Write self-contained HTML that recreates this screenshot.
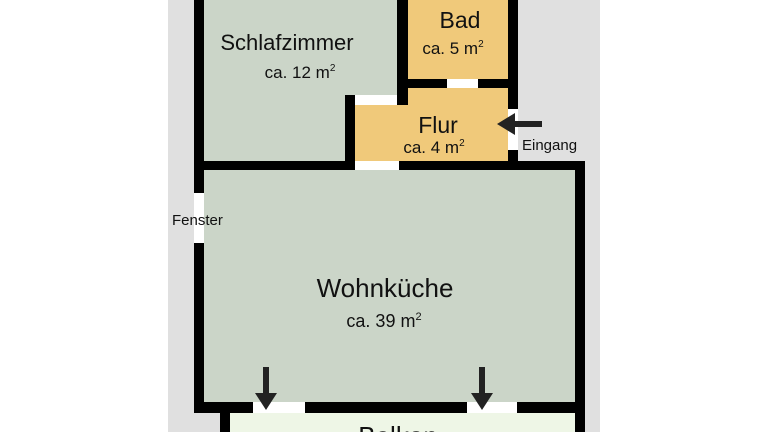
<!DOCTYPE html>
<html><head><style>
body{margin:0;width:768px;height:432px;overflow:hidden;background:#fff;}
svg text{font-family:"Liberation Sans",sans-serif;fill:#111;}
</style></head><body>
<svg width="768" height="432" viewBox="0 0 768 432">
<rect x="168" y="0" width="432" height="432" fill="#e0e0e0"/>
<rect x="204" y="0" width="193" height="161" fill="#cbd5c8"/>
<rect x="204" y="170" width="371" height="233" fill="#cbd5c8"/>
<rect x="408" y="0" width="100" height="79" fill="#f0c97a"/>
<rect x="397" y="88" width="111" height="73" fill="#f0c97a"/>
<rect x="355" y="105" width="45" height="56" fill="#f0c97a"/>
<rect x="230" y="413" width="345" height="19" fill="#eef6e6"/>
<g fill="#000">
<rect x="194" y="0" width="10" height="193"/>
<rect x="194" y="243" width="10" height="170"/>
<rect x="194" y="161" width="161" height="9"/>
<rect x="399" y="161" width="186" height="9"/>
<rect x="345" y="95" width="10" height="75"/>
<rect x="397" y="0" width="11" height="105"/>
<rect x="397" y="79" width="50" height="9"/>
<rect x="478" y="79" width="40" height="9"/>
<rect x="508" y="0" width="10" height="109"/>
<rect x="508" y="150" width="10" height="20"/>
<rect x="575" y="161" width="10" height="271"/>
<rect x="194" y="402" width="59" height="11"/>
<rect x="305" y="402" width="162" height="11"/>
<rect x="517" y="402" width="68" height="11"/>
<rect x="220" y="413" width="10" height="19"/>
</g>
<g fill="#fff">
<rect x="194" y="193" width="10" height="50"/>
<rect x="355" y="95" width="42" height="10"/>
<rect x="447" y="79" width="31" height="9"/>
<rect x="508" y="109" width="10" height="41"/>
<rect x="355" y="161" width="44" height="9"/>
<rect x="253" y="402" width="52" height="11"/>
<rect x="467" y="402" width="50" height="11"/>
</g>
<g fill="#222">
<rect x="514" y="121" width="28" height="6"/>
<polygon points="497,124 515,113 515,135"/>
<rect x="263" y="367" width="6" height="28"/>
<polygon points="255,393 277,393 266,410"/>
<rect x="479" y="367" width="6" height="28"/>
<polygon points="471,393 493,393 482,410"/>
</g>
<text x="287" y="50" font-size="22" text-anchor="middle">Schlafzimmer</text>
<text x="300" y="78" font-size="17" text-anchor="middle">ca. 12 m<tspan font-size="10" dy="-7">2</tspan></text>
<text x="460" y="28" font-size="23" text-anchor="middle">Bad</text>
<text x="453" y="54" font-size="17" text-anchor="middle">ca. 5 m<tspan font-size="10" dy="-7">2</tspan></text>
<text x="438" y="133" font-size="23" text-anchor="middle">Flur</text>
<text x="434" y="153" font-size="17" text-anchor="middle">ca. 4 m<tspan font-size="10" dy="-7">2</tspan></text>
<text x="522" y="150" font-size="15">Eingang</text>
<text x="172" y="225" font-size="15">Fenster</text>
<text x="385" y="297" font-size="26" text-anchor="middle">Wohnküche</text>
<text x="384" y="327" font-size="18" text-anchor="middle">ca. 39 m<tspan font-size="11" dy="-7">2</tspan></text>
<text x="398" y="445" font-size="26" text-anchor="middle">Balkon</text>
</svg>
</body></html>
